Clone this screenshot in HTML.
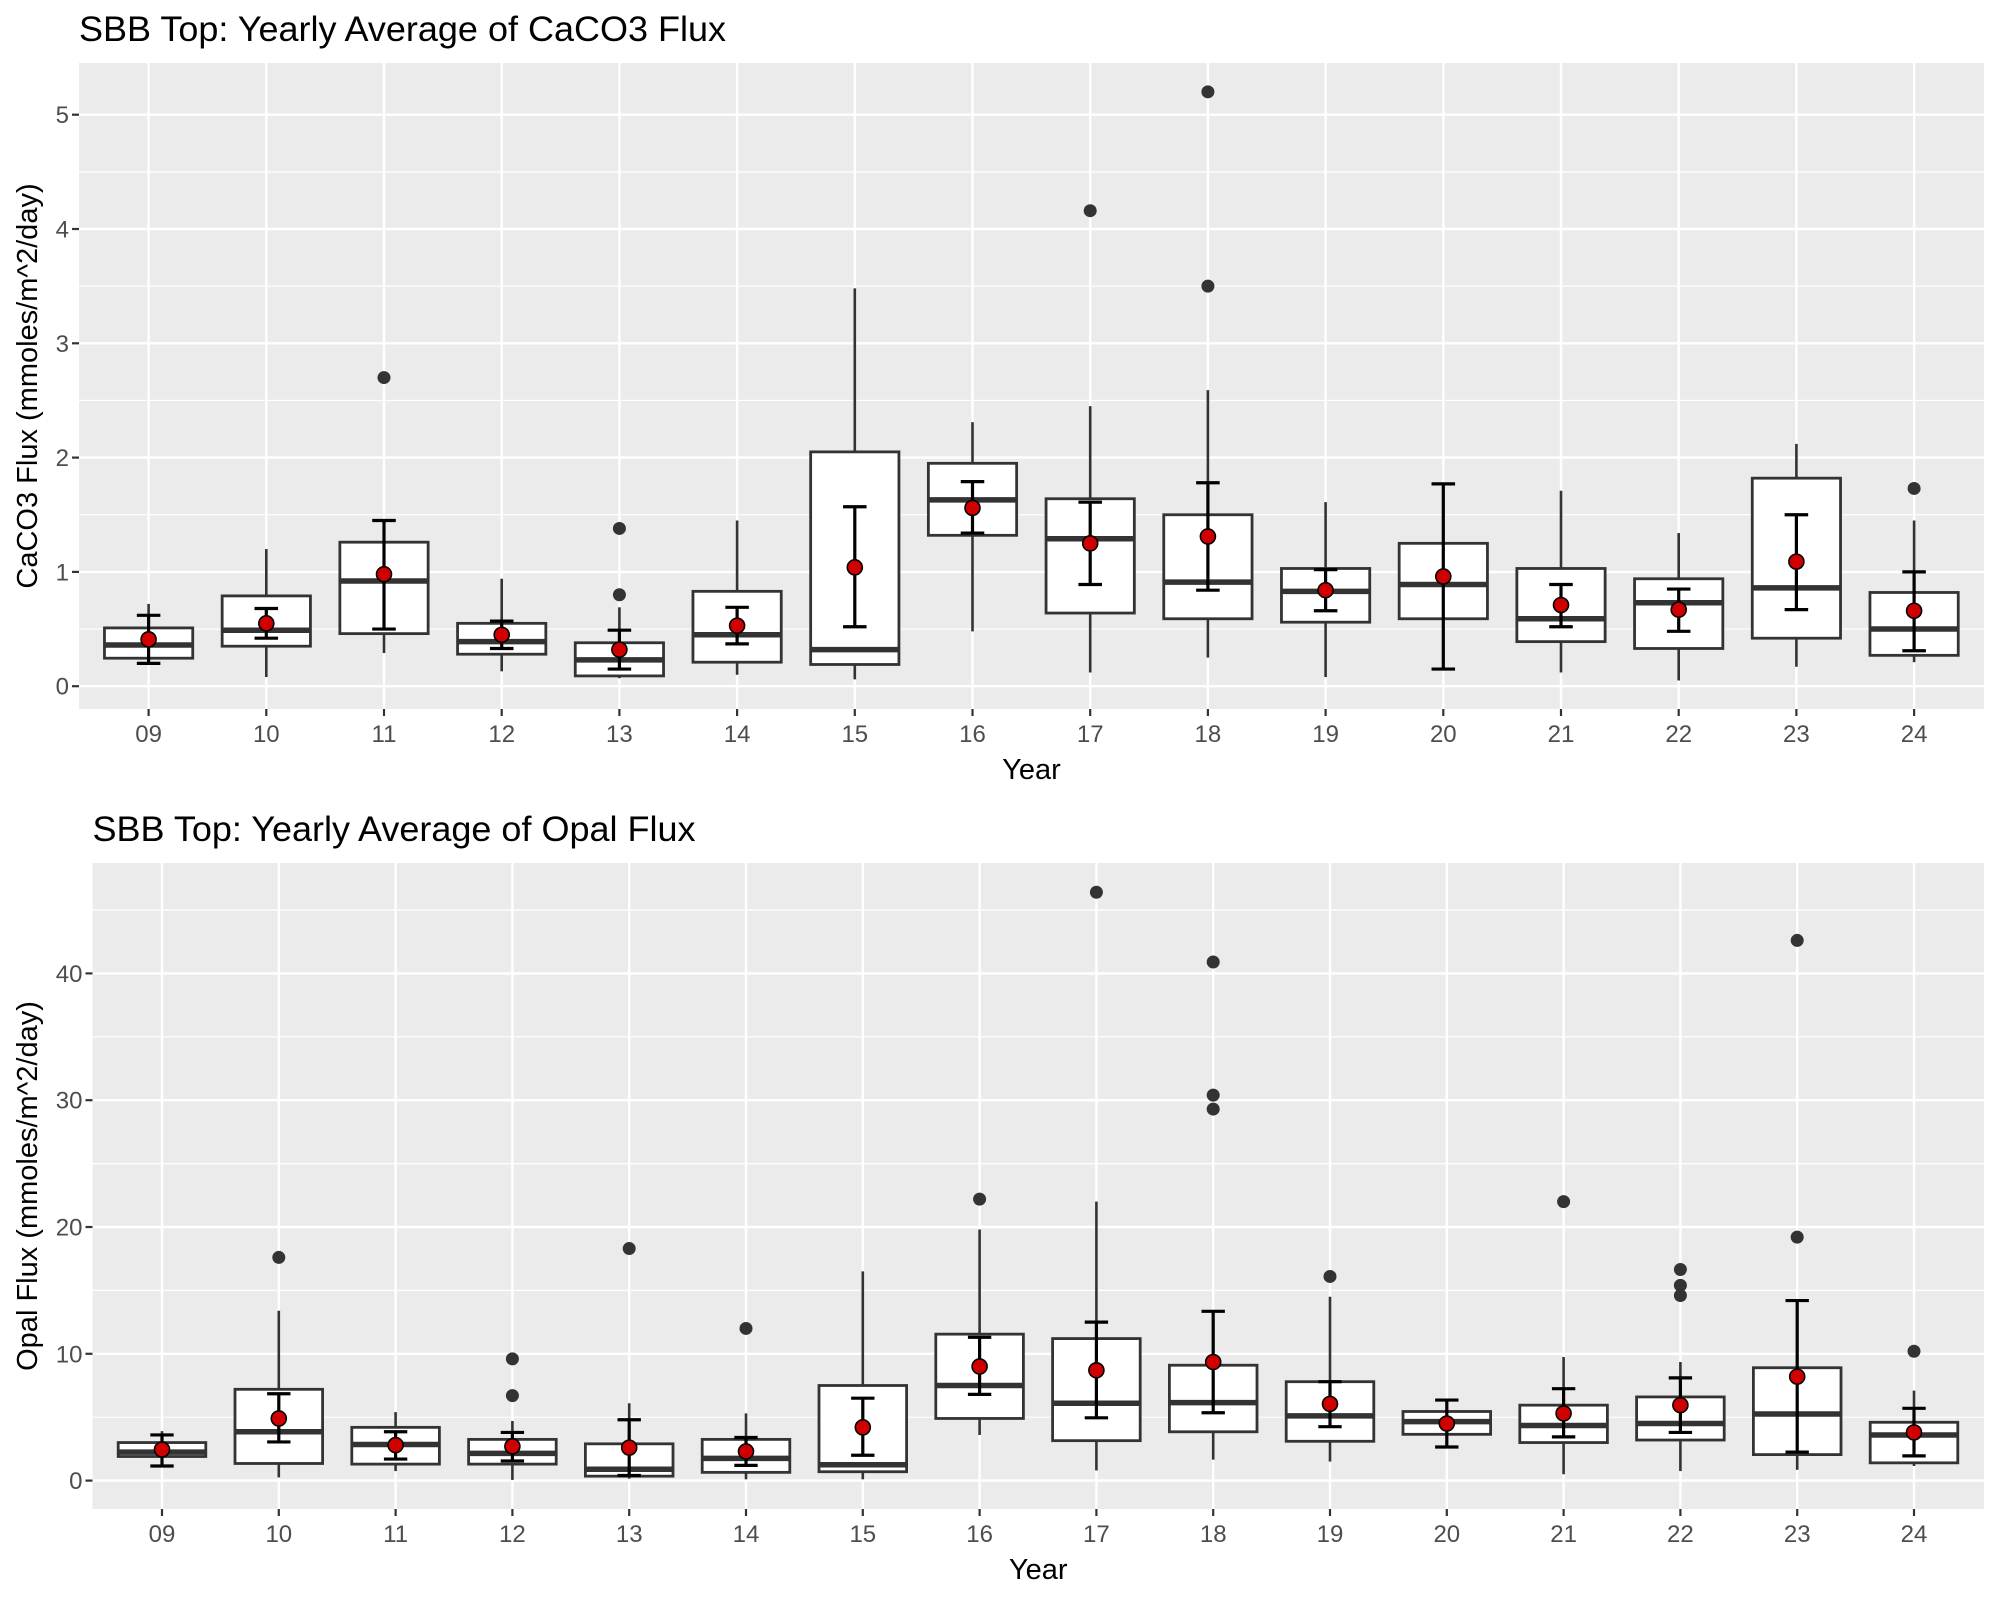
<!DOCTYPE html>
<html><head><meta charset="utf-8"><style>
html,body{margin:0;padding:0;background:#fff;}
svg{display:block;font-family:"Liberation Sans",sans-serif;}
</style></head><body>
<svg id="chart" width="2000" height="1600" viewBox="0 0 2000 1600" xmlns="http://www.w3.org/2000/svg"></svg>
<script>
const years = ["09","10","11","12","13","14","15","16","17","18","19","20","21","22","23","24"];
// CaCO3 panel
const caLow   = [0.20,0.08,0.29,0.13,0.07,0.10,0.06,0.48,0.12,0.25,0.08,0.15,0.12,0.05,0.17,0.21];
const caQ1    = [0.245,0.35,0.46,0.28,0.09,0.21,0.19,1.32,0.64,0.59,0.56,0.59,0.39,0.33,0.42,0.27];
const caMed   = [0.36,0.49,0.92,0.39,0.23,0.45,0.32,1.63,1.29,0.91,0.83,0.89,0.59,0.73,0.86,0.50];
const caQ3    = [0.51,0.79,1.26,0.55,0.38,0.83,2.05,1.95,1.64,1.50,1.03,1.25,1.03,0.94,1.82,0.82];
const caHigh  = [0.72,1.20,1.45,0.94,0.69,1.45,3.48,2.31,2.45,2.59,1.61,1.77,1.71,1.34,2.12,1.45];
const caMean  = [0.41,0.55,0.98,0.45,0.32,0.53,1.04,1.56,1.25,1.31,0.84,0.96,0.71,0.67,1.09,0.66];
const caErrLo = [0.20,0.42,0.50,0.33,0.15,0.37,0.52,1.34,0.89,0.84,0.66,0.15,0.52,0.48,0.67,0.31];
const caErrHi = [0.62,0.68,1.45,0.57,0.49,0.69,1.57,1.79,1.61,1.78,1.02,1.77,0.89,0.85,1.50,1.00];
const caOut   = [[],[],[2.70],[],[0.80,1.38],[],[],[],[4.16],[3.50,5.20],[],[],[],[],[],[1.73]];
const caTicks = [0,1,2,3,4,5];
const caMinor = [0.5,1.5,2.5,3.5,4.5];
// Opal panel
const opLow   = [1.1,0.25,0.75,0.05,0.15,0.1,0.1,3.6,0.8,1.65,1.5,2.65,0.5,0.75,0.85,1.15];
const opQ1    = [1.9,1.35,1.3,1.3,0.35,0.65,0.7,4.9,3.15,3.85,3.1,3.65,3.0,3.2,2.05,1.4];
const opMed   = [2.25,3.85,2.85,2.15,0.9,1.75,1.25,7.5,6.1,6.15,5.1,4.65,4.35,4.5,5.25,3.6];
const opQ3    = [3.0,7.2,4.2,3.25,2.9,3.25,7.5,11.55,11.2,9.1,7.8,5.45,5.95,6.6,8.9,4.6];
const opHigh  = [3.9,13.4,5.4,4.7,6.1,5.3,16.5,19.8,22.0,13.35,14.5,6.35,9.75,9.35,14.2,7.1];
const opMean  = [2.45,4.9,2.8,2.7,2.6,2.3,4.2,9.0,8.7,9.35,6.05,4.5,5.3,5.95,8.2,3.8];
const opErrLo = [1.15,3.05,1.7,1.55,0.4,1.2,2.0,6.8,4.95,5.35,4.25,2.65,3.45,3.8,2.25,1.95];
const opErrHi = [3.6,6.85,3.85,3.8,4.8,3.4,6.5,11.3,12.5,13.35,7.8,6.35,7.25,8.1,14.2,5.7];
const opOut   = [[],[17.6],[],[6.7,9.6],[18.3],[12.0],[],[22.2],[46.4],[29.3,30.4,40.9],[16.1],[],[22.0],[14.6,15.4,16.65],[19.2,42.6],[10.2]];
const opTicks = [0,10,20,30,40];
const opMinor = [5,15,25,35,45];

const NS="http://www.w3.org/2000/svg";
const svg=document.getElementById('chart');
function mk(tag,attrs,parent){const e=document.createElementNS(NS,tag);for(const k in attrs)e.setAttribute(k,attrs[k]);(parent||svg).appendChild(e);return e;}

function panel(cfg){
  const g=mk('g',{});
  
  
  const L=cfg.left,R=cfg.right,T=cfg.top,B=cfg.bottom;
  const y=v=>cfg.y0-(v)*cfg.ppu;
  const x=i=>cfg.x0+i*cfg.dx;
  const bg=mk('rect',{x:L,y:T,width:R-L,height:B-T,fill:'#ebebeb'},g);
  
  
  cfg.minor.forEach(v=>{const l=mk('line',{x1:L,x2:R,y1:y(v),y2:y(v),stroke:'#fff','stroke-width':1.2},g);
    
    });
  cfg.ticks.forEach(v=>{const l=mk('line',{x1:L,x2:R,y1:y(v),y2:y(v),stroke:'#fff','stroke-width':2.4},g);
    
    
    const tk=mk('line',{x1:L-7,x2:L,y1:y(v),y2:y(v),stroke:'#333','stroke-width':2.2},g);
    
    
    const t=mk('text',{x:L-10,y:y(v)+8.5,'text-anchor':'end','font-size':24,fill:'#4d4d4d'},g);
    t.textContent=String(v);
    
    });
  years.forEach((yr,i)=>{const l=mk('line',{x1:x(i),x2:x(i),y1:T,y2:B,stroke:'#fff','stroke-width':2.4},g);
    
    
    const tk=mk('line',{x1:x(i),x2:x(i),y1:B,y2:B+7,stroke:'#333','stroke-width':2.2},g);
    
    
    const t=mk('text',{x:x(i),y:B+33,'text-anchor':'middle','font-size':24,fill:'#4d4d4d'},g);
    t.textContent=yr;
    
    });
  const bw=cfg.dx*0.75, cw=cfg.dx*0.2;
  years.forEach((yr,i)=>{
    const bx=mk('g',{},g);
    
    
    const cx=x(i);
    mk('line',{x1:cx,x2:cx,y1:y(cfg.low[i]),y2:y(cfg.q1[i]),stroke:'#333','stroke-width':2.6},bx);
    mk('line',{x1:cx,x2:cx,y1:y(cfg.high[i]),y2:y(cfg.q3[i]),stroke:'#333','stroke-width':2.6},bx);
    mk('rect',{x:cx-bw/2,y:y(cfg.q3[i]),width:bw,height:y(cfg.q1[i])-y(cfg.q3[i]),fill:'#fff',stroke:'#333','stroke-width':2.8},bx);
    mk('line',{x1:cx-bw/2,x2:cx+bw/2,y1:y(cfg.med[i]),y2:y(cfg.med[i]),stroke:'#333','stroke-width':5.5},bx);
    cfg.out[i].forEach(v=>{const c=mk('circle',{cx:cx,cy:y(v),r:6.5,fill:'#333'},bx);
      
      });
    const eb=mk('g',{stroke:'#000','stroke-width':3.2},bx);
    
    
    mk('line',{x1:cx,x2:cx,y1:y(cfg.eLo[i]),y2:y(cfg.eHi[i])},eb);
    mk('line',{x1:cx-cw/2,x2:cx+cw/2,y1:y(cfg.eLo[i]),y2:y(cfg.eLo[i])},eb);
    mk('line',{x1:cx-cw/2,x2:cx+cw/2,y1:y(cfg.eHi[i]),y2:y(cfg.eHi[i])},eb);
    const m=mk('circle',{cx:cx,cy:y(cfg.mean[i]),r:7.5,fill:'#d10000',stroke:'#000','stroke-width':1.6},bx);
    
    
  });
  const tt=mk('text',{x:L,y:cfg.titleY,'font-size':35,fill:'#000',textLength:cfg.titleW,lengthAdjust:'spacingAndGlyphs'},g);
  tt.textContent=cfg.title;
  
  
  const xt=mk('text',{x:(L+R)/2,y:B+70,'text-anchor':'middle','font-size':29,fill:'#000'},g);
  xt.textContent='Year';
  
  
  const yc=(T+B)/2;
  const yt=mk('text',{x:0,y:0,'text-anchor':'middle','font-size':29,fill:'#000',transform:`translate(37,${yc}) rotate(-90)`},g);
  yt.textContent=cfg.ytitle;
  
  
}

panel({name:'caco3-panel',title:'SBB Top: Yearly Average of CaCO3 Flux',ytitle:'CaCO3 Flux (mmoles/m^2/day)',
  left:79,right:1984,top:63,bottom:709,titleY:41,titleW:647,y0:686.2,ppu:114.3,x0:148.6,dx:117.7,
  ticks:caTicks,minor:caMinor,low:caLow,q1:caQ1,med:caMed,q3:caQ3,high:caHigh,mean:caMean,eLo:caErrLo,eHi:caErrHi,out:caOut});
panel({name:'opal-panel',title:'SBB Top: Yearly Average of Opal Flux',ytitle:'Opal Flux (mmoles/m^2/day)',
  left:92.5,right:1984,top:863,bottom:1509,titleY:841,titleW:603,y0:1480.6,ppu:12.68,x0:162,dx:116.8,
  ticks:opTicks,minor:opMinor,low:opLow,q1:opQ1,med:opMed,q3:opQ3,high:opHigh,mean:opMean,eLo:opErrLo,eHi:opErrHi,out:opOut});
</script>
</body></html>
